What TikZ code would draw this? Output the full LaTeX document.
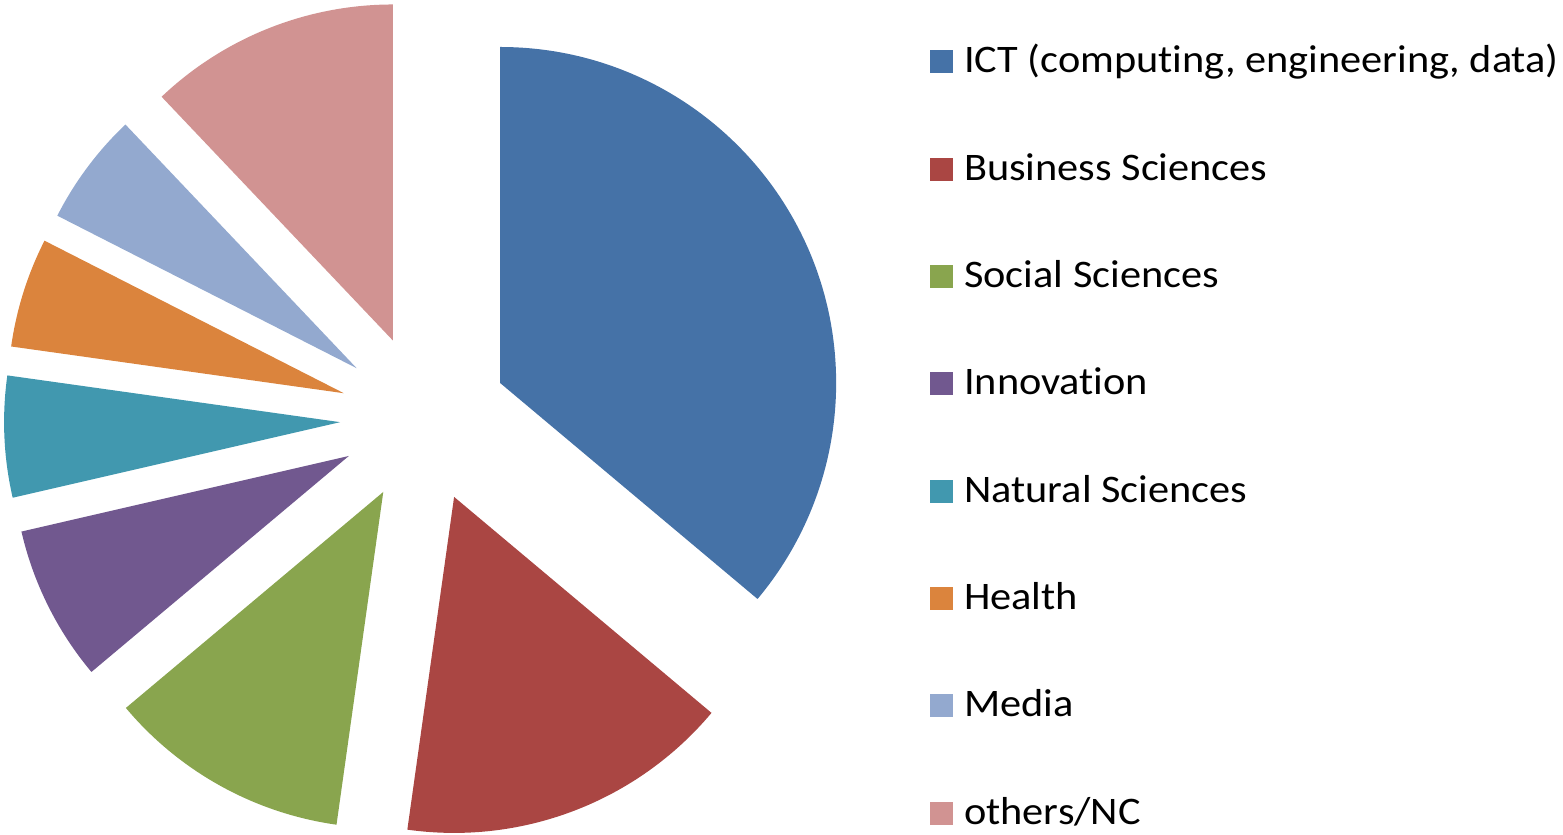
\documentclass[tikz,border=0pt]{standalone}
\usepackage{fontspec}
\setmainfont{Carlito}[FakeStretch=1.085, Ligatures=NoCommon]
\usetikzlibrary{calc}
\definecolor{cICT}{HTML}{4572A7}
\definecolor{cBus}{HTML}{AA4643}
\definecolor{cSoc}{HTML}{89A54E}
\definecolor{cInn}{HTML}{71588F}
\definecolor{cNat}{HTML}{4198AF}
\definecolor{cHea}{HTML}{DB843D}
\definecolor{cMed}{HTML}{93A9CF}
\definecolor{cOth}{HTML}{D19392}
\tikzset{
  legsq/.style={fill=#1, minimum size=23pt, inner sep=0pt, draw=none},
  legtxt/.style={anchor=base west, inner sep=0pt, font=\fontsize{39}{41}\selectfont},
}
\newcommand{\pieslice}[3]{%
  \pgfmathsetmacro{\bis}{(#2+#3)/2}%
  \fill[#1] ($(C)+(\bis:84)$) -- ++(#2:336) arc[start angle=#2, end angle=#3, radius=336] -- cycle;%
}
\begin{document}
\begin{tikzpicture}[x=1pt,y=1pt]
\useasboundingbox (0,0) rectangle (1563,835);
\coordinate (C) at (424,416.5);
\pieslice{cICT}{90}{-40}
\pieslice{cBus}{-40}{-98}
\pieslice{cSoc}{-98}{-140}
\pieslice{cInn}{-140}{-167}
\pieslice{cNat}{-167}{-188}
\pieslice{cHea}{172}{153}
\pieslice{cMed}{153}{133.5}
\pieslice{cOth}{133.5}{90}
\foreach \i/\c/\t in {0/cICT/{ICT (computing, engineering, data)},1/cBus/{Business Sciences},2/cSoc/{Social Sciences},3/cInn/{Innovation},4/cNat/{Natural Sciences},5/cHea/{Health},6/cMed/{Media},7/cOth/{others/NC}}{
  \pgfmathsetmacro{\yc}{835-62-107.3*\i}
  \node[legsq=\c] (sq\i) at (941,\yc) {};
  \node[legtxt] (lt\i) at (964,\yc-11) {\t};
}
\end{tikzpicture}
\end{document}
